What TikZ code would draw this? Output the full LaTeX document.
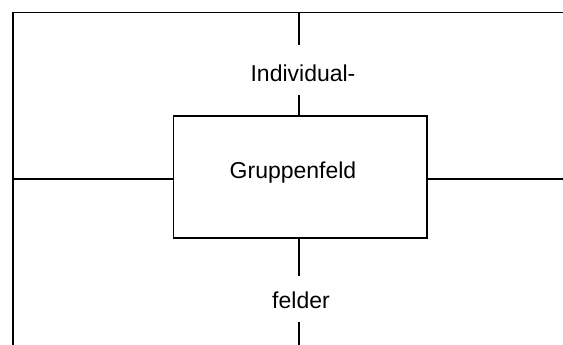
\documentclass[tikz,border=0pt]{standalone}
\usepackage{fontspec}
\setmainfont{Liberation Sans}
\begin{document}
\begin{tikzpicture}[x=1pt,y=-1pt,
  ln/.style={line width=1.3pt, black},
  lbl/.style={font=\fontsize{23}{27}\selectfont, inner sep=0pt, anchor=base},
  boxst/.style={draw, line width=1.3pt, minimum width=253.7pt, minimum height=122pt, inner sep=0pt}]
\useasboundingbox (0,0) rectangle (563,345);
\node[boxst] (box) at (300.2,177) {};
\node[lbl] (grp) at (293,178.3) {Gruppenfeld};
\node[lbl] (ind) at (303,81.7) {Individual-};
\node[lbl] (fel) at (301,308) {felder};
\coordinate (tl) at (13,12.5);
\coordinate (tr) at (563,12.5);
\coordinate (bl) at (13,345);
\coordinate (tm) at (299,12.5);
\coordinate (tmE) at (299,45);
\coordinate (mA) at (299,95);
\coordinate (lh) at (13,179);
\coordinate (rh) at (563,179);
\coordinate (bmA) at (299,276);
\coordinate (bmB) at (299,322);
\coordinate (bmE) at (299,345);
\draw[ln] (bl) -- (tl) -- (tr);
\draw[ln] (tm) -- (tmE);
\draw[ln] (mA) -- (mA |- box.north);
\draw[ln] (lh) -- (lh -| box.west);
\draw[ln] (rh) -- (rh -| box.east);
\draw[ln] (bmA |- box.south) -- (bmA);
\draw[ln] (bmB) -- (bmE);
\end{tikzpicture}
\end{document}
